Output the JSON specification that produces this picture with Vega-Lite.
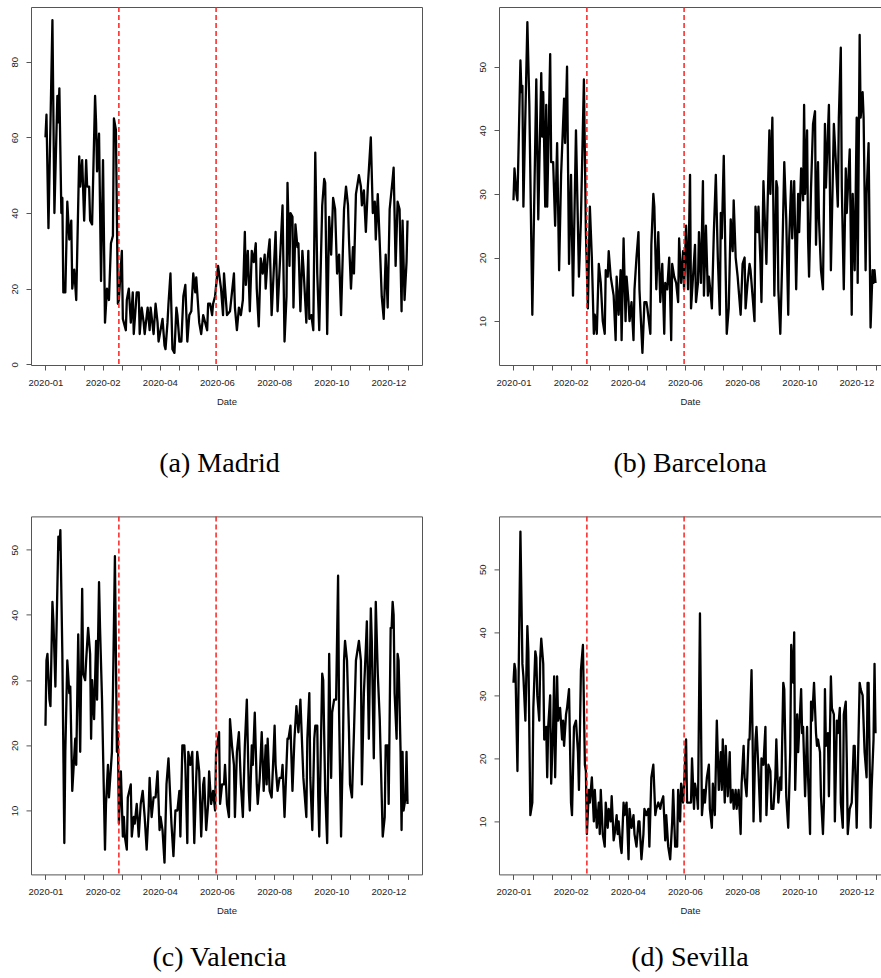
{
"$schema":"https://vega.github.io/schema/vega-lite/v6.json",
"background":"white",
"padding":{"left":8,"top":5,"right":0,"bottom":0},
"bounds":"flush",
"align":"each",
"columns":2,
"spacing":{"row":151.4,"column":77},
"datasets":{
"events":[{"date":"2020-03-15"},{"date":"2020-06-21"}],
"Madrid":[{"date":"2020-01-01","value":60},{"date":"2020-01-02","value":66},{"date":"2020-01-04","value":36},{"date":"2020-01-08","value":91},{"date":"2020-01-10","value":40},{"date":"2020-01-13","value":71},{"date":"2020-01-14","value":64},{"date":"2020-01-15","value":73},{"date":"2020-01-17","value":40},{"date":"2020-01-18","value":44},{"date":"2020-01-19","value":19},{"date":"2020-01-21","value":19},{"date":"2020-01-23","value":43},{"date":"2020-01-25","value":33},{"date":"2020-01-27","value":38},{"date":"2020-01-28","value":20},{"date":"2020-01-30","value":25},{"date":"2020-02-01","value":17},{"date":"2020-02-04","value":55},{"date":"2020-02-05","value":47},{"date":"2020-02-07","value":54},{"date":"2020-02-09","value":38},{"date":"2020-02-11","value":54},{"date":"2020-02-12","value":47},{"date":"2020-02-14","value":47},{"date":"2020-02-15","value":38},{"date":"2020-02-17","value":37},{"date":"2020-02-20","value":71},{"date":"2020-02-21","value":64},{"date":"2020-02-22","value":51},{"date":"2020-02-24","value":61},{"date":"2020-02-26","value":22},{"date":"2020-02-28","value":54},{"date":"2020-03-01","value":11},{"date":"2020-03-03","value":20},{"date":"2020-03-05","value":17},{"date":"2020-03-07","value":32},{"date":"2020-03-09","value":34},{"date":"2020-03-10","value":65},{"date":"2020-03-12","value":62},{"date":"2020-03-14","value":16},{"date":"2020-03-15","value":17},{"date":"2020-03-18","value":30},{"date":"2020-03-19","value":12},{"date":"2020-03-22","value":9},{"date":"2020-03-23","value":17},{"date":"2020-03-25","value":20},{"date":"2020-03-27","value":11},{"date":"2020-03-29","value":19},{"date":"2020-03-30","value":8},{"date":"2020-04-02","value":19},{"date":"2020-04-04","value":19},{"date":"2020-04-05","value":8},{"date":"2020-04-07","value":15},{"date":"2020-04-09","value":11},{"date":"2020-04-10","value":8},{"date":"2020-04-13","value":15},{"date":"2020-04-15","value":9},{"date":"2020-04-16","value":15},{"date":"2020-04-19","value":8},{"date":"2020-04-21","value":16},{"date":"2020-04-23","value":11},{"date":"2020-04-24","value":6},{"date":"2020-04-26","value":9},{"date":"2020-04-28","value":12},{"date":"2020-04-30","value":5},{"date":"2020-05-01","value":4},{"date":"2020-05-03","value":11},{"date":"2020-05-04","value":16},{"date":"2020-05-06","value":24},{"date":"2020-05-08","value":4},{"date":"2020-05-10","value":3},{"date":"2020-05-12","value":15},{"date":"2020-05-13","value":13},{"date":"2020-05-15","value":6},{"date":"2020-05-17","value":6},{"date":"2020-05-19","value":18},{"date":"2020-05-21","value":21},{"date":"2020-05-23","value":6},{"date":"2020-05-25","value":13},{"date":"2020-05-27","value":14},{"date":"2020-05-29","value":24},{"date":"2020-05-31","value":19},{"date":"2020-06-01","value":23},{"date":"2020-06-04","value":11},{"date":"2020-06-06","value":8},{"date":"2020-06-08","value":13},{"date":"2020-06-10","value":11},{"date":"2020-06-12","value":9},{"date":"2020-06-13","value":16},{"date":"2020-06-15","value":16},{"date":"2020-06-17","value":13},{"date":"2020-06-18","value":16},{"date":"2020-06-20","value":18},{"date":"2020-06-23","value":26},{"date":"2020-06-26","value":20},{"date":"2020-06-28","value":13},{"date":"2020-06-29","value":24},{"date":"2020-07-02","value":13},{"date":"2020-07-05","value":14},{"date":"2020-07-09","value":24},{"date":"2020-07-10","value":15},{"date":"2020-07-12","value":9},{"date":"2020-07-14","value":15},{"date":"2020-07-16","value":13},{"date":"2020-07-18","value":17},{"date":"2020-07-20","value":35},{"date":"2020-07-21","value":21},{"date":"2020-07-23","value":30},{"date":"2020-07-25","value":14},{"date":"2020-07-27","value":30},{"date":"2020-07-29","value":27},{"date":"2020-07-31","value":32},{"date":"2020-08-01","value":20},{"date":"2020-08-03","value":10},{"date":"2020-08-05","value":28},{"date":"2020-08-07","value":24},{"date":"2020-08-09","value":29},{"date":"2020-08-10","value":20},{"date":"2020-08-12","value":28},{"date":"2020-08-14","value":33},{"date":"2020-08-16","value":13},{"date":"2020-08-18","value":24},{"date":"2020-08-20","value":35},{"date":"2020-08-22","value":14},{"date":"2020-08-24","value":25},{"date":"2020-08-27","value":42},{"date":"2020-08-29","value":6},{"date":"2020-08-31","value":18},{"date":"2020-09-01","value":48},{"date":"2020-09-03","value":26},{"date":"2020-09-04","value":40},{"date":"2020-09-06","value":39},{"date":"2020-09-07","value":15},{"date":"2020-09-09","value":37},{"date":"2020-09-11","value":31},{"date":"2020-09-12","value":32},{"date":"2020-09-14","value":14},{"date":"2020-09-16","value":30},{"date":"2020-09-17","value":26},{"date":"2020-09-20","value":11},{"date":"2020-09-22","value":30},{"date":"2020-09-23","value":12},{"date":"2020-09-25","value":13},{"date":"2020-09-27","value":9},{"date":"2020-09-29","value":56},{"date":"2020-10-01","value":24},{"date":"2020-10-03","value":9},{"date":"2020-10-06","value":42},{"date":"2020-10-08","value":49},{"date":"2020-10-09","value":48},{"date":"2020-10-11","value":8},{"date":"2020-10-13","value":39},{"date":"2020-10-15","value":29},{"date":"2020-10-17","value":44},{"date":"2020-10-19","value":41},{"date":"2020-10-21","value":24},{"date":"2020-10-23","value":29},{"date":"2020-10-25","value":13},{"date":"2020-10-28","value":41},{"date":"2020-10-30","value":47},{"date":"2020-11-01","value":42},{"date":"2020-11-02","value":33},{"date":"2020-11-04","value":20},{"date":"2020-11-06","value":31},{"date":"2020-11-07","value":24},{"date":"2020-11-09","value":45},{"date":"2020-11-12","value":50},{"date":"2020-11-14","value":47},{"date":"2020-11-15","value":42},{"date":"2020-11-17","value":46},{"date":"2020-11-19","value":35},{"date":"2020-11-21","value":47},{"date":"2020-11-24","value":60},{"date":"2020-11-26","value":40},{"date":"2020-11-28","value":43},{"date":"2020-11-29","value":33},{"date":"2020-12-01","value":45},{"date":"2020-12-03","value":32},{"date":"2020-12-05","value":18},{"date":"2020-12-07","value":12},{"date":"2020-12-09","value":29},{"date":"2020-12-11","value":15},{"date":"2020-12-13","value":41},{"date":"2020-12-16","value":49},{"date":"2020-12-17","value":52},{"date":"2020-12-19","value":26},{"date":"2020-12-21","value":43},{"date":"2020-12-23","value":41},{"date":"2020-12-25","value":14},{"date":"2020-12-26","value":38},{"date":"2020-12-28","value":17},{"date":"2020-12-30","value":27},{"date":"2020-12-31","value":38}],
"Barcelona":[{"date":"2020-01-01","value":29},{"date":"2020-01-02","value":34},{"date":"2020-01-04","value":30},{"date":"2020-01-05","value":29},{"date":"2020-01-08","value":51},{"date":"2020-01-09","value":46},{"date":"2020-01-10","value":47},{"date":"2020-01-11","value":28},{"date":"2020-01-15","value":57},{"date":"2020-01-17","value":44},{"date":"2020-01-20","value":11},{"date":"2020-01-24","value":48},{"date":"2020-01-26","value":26},{"date":"2020-01-27","value":34},{"date":"2020-01-29","value":49},{"date":"2020-01-30","value":39},{"date":"2020-01-31","value":46},{"date":"2020-02-02","value":28},{"date":"2020-02-03","value":44},{"date":"2020-02-04","value":28},{"date":"2020-02-07","value":52},{"date":"2020-02-08","value":35},{"date":"2020-02-10","value":35},{"date":"2020-02-12","value":25},{"date":"2020-02-14","value":38},{"date":"2020-02-16","value":18},{"date":"2020-02-18","value":33},{"date":"2020-02-21","value":45},{"date":"2020-02-22","value":38},{"date":"2020-02-24","value":50},{"date":"2020-02-26","value":19},{"date":"2020-02-28","value":33},{"date":"2020-03-01","value":14},{"date":"2020-03-04","value":40},{"date":"2020-03-07","value":17},{"date":"2020-03-09","value":26},{"date":"2020-03-12","value":48},{"date":"2020-03-14","value":24},{"date":"2020-03-16","value":12},{"date":"2020-03-18","value":28},{"date":"2020-03-20","value":20},{"date":"2020-03-22","value":8},{"date":"2020-03-23","value":11},{"date":"2020-03-25","value":8},{"date":"2020-03-27","value":19},{"date":"2020-03-29","value":16},{"date":"2020-03-31","value":10},{"date":"2020-04-02","value":8},{"date":"2020-04-03","value":18},{"date":"2020-04-05","value":17},{"date":"2020-04-06","value":21},{"date":"2020-04-08","value":17},{"date":"2020-04-11","value":14},{"date":"2020-04-13","value":7},{"date":"2020-04-14","value":17},{"date":"2020-04-16","value":11},{"date":"2020-04-18","value":18},{"date":"2020-04-19","value":7},{"date":"2020-04-21","value":23},{"date":"2020-04-23","value":10},{"date":"2020-04-24","value":17},{"date":"2020-04-26","value":13},{"date":"2020-04-27","value":10},{"date":"2020-04-29","value":13},{"date":"2020-05-01","value":7},{"date":"2020-05-02","value":15},{"date":"2020-05-04","value":20},{"date":"2020-05-06","value":24},{"date":"2020-05-07","value":15},{"date":"2020-05-10","value":5},{"date":"2020-05-12","value":13},{"date":"2020-05-14","value":13},{"date":"2020-05-15","value":12},{"date":"2020-05-18","value":8},{"date":"2020-05-19","value":22},{"date":"2020-05-21","value":30},{"date":"2020-05-22","value":28},{"date":"2020-05-24","value":15},{"date":"2020-05-26","value":24},{"date":"2020-05-28","value":13},{"date":"2020-05-30","value":19},{"date":"2020-06-01","value":8},{"date":"2020-06-02","value":16},{"date":"2020-06-04","value":15},{"date":"2020-06-06","value":20},{"date":"2020-06-08","value":7},{"date":"2020-06-09","value":19},{"date":"2020-06-11","value":17},{"date":"2020-06-13","value":16},{"date":"2020-06-15","value":13},{"date":"2020-06-16","value":23},{"date":"2020-06-18","value":16},{"date":"2020-06-20","value":21},{"date":"2020-06-21","value":15},{"date":"2020-06-23","value":25},{"date":"2020-06-25","value":15},{"date":"2020-06-27","value":33},{"date":"2020-06-28","value":12},{"date":"2020-06-30","value":17},{"date":"2020-07-02","value":22},{"date":"2020-07-03","value":13},{"date":"2020-07-05","value":16},{"date":"2020-07-06","value":24},{"date":"2020-07-08","value":16},{"date":"2020-07-10","value":32},{"date":"2020-07-11","value":14},{"date":"2020-07-13","value":25},{"date":"2020-07-15","value":14},{"date":"2020-07-16","value":17},{"date":"2020-07-18","value":14},{"date":"2020-07-19","value":12},{"date":"2020-07-21","value":24},{"date":"2020-07-23","value":33},{"date":"2020-07-25","value":20},{"date":"2020-07-27","value":11},{"date":"2020-07-28","value":27},{"date":"2020-07-29","value":23},{"date":"2020-07-31","value":36},{"date":"2020-08-02","value":17},{"date":"2020-08-03","value":8},{"date":"2020-08-05","value":12},{"date":"2020-08-07","value":26},{"date":"2020-08-09","value":21},{"date":"2020-08-10","value":29},{"date":"2020-08-12","value":20},{"date":"2020-08-14","value":17},{"date":"2020-08-15","value":15},{"date":"2020-08-17","value":11},{"date":"2020-08-19","value":19},{"date":"2020-08-21","value":20},{"date":"2020-08-22","value":12},{"date":"2020-08-24","value":16},{"date":"2020-08-26","value":19},{"date":"2020-08-27","value":18},{"date":"2020-08-29","value":14},{"date":"2020-08-31","value":10},{"date":"2020-09-01","value":28},{"date":"2020-09-03","value":24},{"date":"2020-09-04","value":28},{"date":"2020-09-06","value":19},{"date":"2020-09-07","value":13},{"date":"2020-09-09","value":32},{"date":"2020-09-12","value":19},{"date":"2020-09-13","value":27},{"date":"2020-09-15","value":40},{"date":"2020-09-16","value":30},{"date":"2020-09-18","value":42},{"date":"2020-09-20","value":14},{"date":"2020-09-22","value":32},{"date":"2020-09-23","value":31},{"date":"2020-09-24","value":15},{"date":"2020-09-26","value":8},{"date":"2020-09-28","value":20},{"date":"2020-09-30","value":35},{"date":"2020-10-02","value":26},{"date":"2020-10-04","value":11},{"date":"2020-10-05","value":23},{"date":"2020-10-07","value":32},{"date":"2020-10-08","value":23},{"date":"2020-10-10","value":32},{"date":"2020-10-12","value":15},{"date":"2020-10-14","value":30},{"date":"2020-10-15","value":24},{"date":"2020-10-17","value":34},{"date":"2020-10-19","value":29},{"date":"2020-10-20","value":44},{"date":"2020-10-21","value":30},{"date":"2020-10-23","value":40},{"date":"2020-10-24","value":23},{"date":"2020-10-25","value":17},{"date":"2020-10-27","value":31},{"date":"2020-10-29","value":41},{"date":"2020-10-31","value":43},{"date":"2020-11-01","value":22},{"date":"2020-11-03","value":35},{"date":"2020-11-04","value":26},{"date":"2020-11-06","value":18},{"date":"2020-11-08","value":15},{"date":"2020-11-10","value":41},{"date":"2020-11-11","value":31},{"date":"2020-11-14","value":44},{"date":"2020-11-16","value":18},{"date":"2020-11-19","value":41},{"date":"2020-11-21","value":35},{"date":"2020-11-23","value":28},{"date":"2020-11-24","value":42},{"date":"2020-11-26","value":53},{"date":"2020-11-27","value":31},{"date":"2020-11-29","value":15},{"date":"2020-12-01","value":34},{"date":"2020-12-02","value":27},{"date":"2020-12-05","value":37},{"date":"2020-12-07","value":11},{"date":"2020-12-08","value":30},{"date":"2020-12-10","value":18},{"date":"2020-12-12","value":42},{"date":"2020-12-13","value":16},{"date":"2020-12-15","value":55},{"date":"2020-12-16","value":42},{"date":"2020-12-18","value":46},{"date":"2020-12-19","value":42},{"date":"2020-12-21","value":18},{"date":"2020-12-22","value":30},{"date":"2020-12-24","value":38},{"date":"2020-12-26","value":9},{"date":"2020-12-28","value":18},{"date":"2020-12-29","value":16},{"date":"2020-12-30","value":18},{"date":"2020-12-31","value":16}],
"Valencia":[{"date":"2020-01-01","value":23},{"date":"2020-01-02","value":33},{"date":"2020-01-03","value":34},{"date":"2020-01-05","value":27},{"date":"2020-01-06","value":26},{"date":"2020-01-08","value":42},{"date":"2020-01-09","value":39},{"date":"2020-01-11","value":29},{"date":"2020-01-14","value":52},{"date":"2020-01-15","value":50},{"date":"2020-01-16","value":53},{"date":"2020-01-18","value":34},{"date":"2020-01-20","value":5},{"date":"2020-01-21","value":19},{"date":"2020-01-23","value":33},{"date":"2020-01-25","value":28},{"date":"2020-01-26","value":29},{"date":"2020-01-28","value":13},{"date":"2020-01-31","value":21},{"date":"2020-02-01","value":17},{"date":"2020-02-03","value":37},{"date":"2020-02-05","value":19},{"date":"2020-02-07","value":44},{"date":"2020-02-08","value":31},{"date":"2020-02-10","value":30},{"date":"2020-02-11","value":33},{"date":"2020-02-13","value":38},{"date":"2020-02-15","value":34},{"date":"2020-02-16","value":21},{"date":"2020-02-17","value":30},{"date":"2020-02-19","value":24},{"date":"2020-02-21","value":36},{"date":"2020-02-22","value":27},{"date":"2020-02-24","value":45},{"date":"2020-02-25","value":38},{"date":"2020-02-27","value":27},{"date":"2020-03-01","value":4},{"date":"2020-03-02","value":11},{"date":"2020-03-04","value":17},{"date":"2020-03-05","value":12},{"date":"2020-03-08","value":19},{"date":"2020-03-09","value":28},{"date":"2020-03-11","value":49},{"date":"2020-03-13","value":19},{"date":"2020-03-14","value":22},{"date":"2020-03-15","value":8},{"date":"2020-03-17","value":16},{"date":"2020-03-19","value":6},{"date":"2020-03-20","value":9},{"date":"2020-03-21","value":6},{"date":"2020-03-23","value":4},{"date":"2020-03-24","value":12},{"date":"2020-03-27","value":14},{"date":"2020-03-28","value":6},{"date":"2020-03-30","value":9},{"date":"2020-03-31","value":8},{"date":"2020-04-02","value":11},{"date":"2020-04-04","value":6},{"date":"2020-04-06","value":11},{"date":"2020-04-08","value":13},{"date":"2020-04-10","value":9},{"date":"2020-04-12","value":4},{"date":"2020-04-14","value":10},{"date":"2020-04-15","value":15},{"date":"2020-04-17","value":9},{"date":"2020-04-19","value":12},{"date":"2020-04-21","value":12},{"date":"2020-04-23","value":16},{"date":"2020-04-25","value":7},{"date":"2020-04-26","value":9},{"date":"2020-04-28","value":7},{"date":"2020-04-30","value":2},{"date":"2020-05-02","value":14},{"date":"2020-05-04","value":18},{"date":"2020-05-07","value":8},{"date":"2020-05-09","value":3},{"date":"2020-05-11","value":10},{"date":"2020-05-13","value":10},{"date":"2020-05-15","value":13},{"date":"2020-05-16","value":6},{"date":"2020-05-18","value":20},{"date":"2020-05-20","value":20},{"date":"2020-05-21","value":17},{"date":"2020-05-23","value":5},{"date":"2020-05-24","value":19},{"date":"2020-05-26","value":17},{"date":"2020-05-28","value":19},{"date":"2020-05-30","value":5},{"date":"2020-06-01","value":15},{"date":"2020-06-02","value":19},{"date":"2020-06-04","value":16},{"date":"2020-06-06","value":6},{"date":"2020-06-08","value":14},{"date":"2020-06-09","value":15},{"date":"2020-06-11","value":7},{"date":"2020-06-13","value":11},{"date":"2020-06-14","value":16},{"date":"2020-06-16","value":11},{"date":"2020-06-18","value":13},{"date":"2020-06-20","value":10},{"date":"2020-06-21","value":19},{"date":"2020-06-24","value":22},{"date":"2020-06-25","value":11},{"date":"2020-06-27","value":14},{"date":"2020-06-29","value":14},{"date":"2020-06-30","value":17},{"date":"2020-07-02","value":11},{"date":"2020-07-04","value":9},{"date":"2020-07-05","value":24},{"date":"2020-07-07","value":20},{"date":"2020-07-09","value":17},{"date":"2020-07-10","value":9},{"date":"2020-07-12","value":19},{"date":"2020-07-14","value":22},{"date":"2020-07-16","value":14},{"date":"2020-07-18","value":9},{"date":"2020-07-20","value":20},{"date":"2020-07-22","value":27},{"date":"2020-07-24","value":13},{"date":"2020-07-25","value":10},{"date":"2020-07-27","value":20},{"date":"2020-07-28","value":17},{"date":"2020-07-30","value":25},{"date":"2020-08-01","value":14},{"date":"2020-08-02","value":11},{"date":"2020-08-04","value":15},{"date":"2020-08-06","value":22},{"date":"2020-08-08","value":13},{"date":"2020-08-10","value":20},{"date":"2020-08-11","value":14},{"date":"2020-08-12","value":21},{"date":"2020-08-14","value":13},{"date":"2020-08-16","value":12},{"date":"2020-08-18","value":19},{"date":"2020-08-19","value":23},{"date":"2020-08-20","value":17},{"date":"2020-08-22","value":13},{"date":"2020-08-24","value":15},{"date":"2020-08-26","value":15},{"date":"2020-08-27","value":17},{"date":"2020-08-29","value":9},{"date":"2020-09-01","value":21},{"date":"2020-09-02","value":21},{"date":"2020-09-04","value":23},{"date":"2020-09-06","value":13},{"date":"2020-09-08","value":21},{"date":"2020-09-10","value":26},{"date":"2020-09-12","value":22},{"date":"2020-09-14","value":27},{"date":"2020-09-15","value":23},{"date":"2020-09-17","value":15},{"date":"2020-09-20","value":9},{"date":"2020-09-21","value":21},{"date":"2020-09-23","value":28},{"date":"2020-09-24","value":15},{"date":"2020-09-26","value":7},{"date":"2020-09-28","value":21},{"date":"2020-09-29","value":23},{"date":"2020-10-01","value":23},{"date":"2020-10-02","value":12},{"date":"2020-10-03","value":6},{"date":"2020-10-06","value":31},{"date":"2020-10-07","value":30},{"date":"2020-10-09","value":13},{"date":"2020-10-11","value":5},{"date":"2020-10-12","value":17},{"date":"2020-10-13","value":34},{"date":"2020-10-15","value":15},{"date":"2020-10-16","value":25},{"date":"2020-10-18","value":27},{"date":"2020-10-20","value":27},{"date":"2020-10-22","value":46},{"date":"2020-10-23","value":25},{"date":"2020-10-25","value":6},{"date":"2020-10-27","value":21},{"date":"2020-10-28","value":33},{"date":"2020-10-29","value":36},{"date":"2020-10-31","value":33},{"date":"2020-11-02","value":22},{"date":"2020-11-03","value":14},{"date":"2020-11-05","value":12},{"date":"2020-11-07","value":22},{"date":"2020-11-09","value":33},{"date":"2020-11-10","value":34},{"date":"2020-11-12","value":36},{"date":"2020-11-14","value":33},{"date":"2020-11-15","value":14},{"date":"2020-11-17","value":28},{"date":"2020-11-19","value":35},{"date":"2020-11-20","value":39},{"date":"2020-11-22","value":21},{"date":"2020-11-24","value":41},{"date":"2020-11-25","value":36},{"date":"2020-11-27","value":18},{"date":"2020-11-29","value":42},{"date":"2020-12-01","value":31},{"date":"2020-12-03","value":24},{"date":"2020-12-05","value":12},{"date":"2020-12-06","value":6},{"date":"2020-12-08","value":9},{"date":"2020-12-09","value":20},{"date":"2020-12-11","value":20},{"date":"2020-12-12","value":11},{"date":"2020-12-14","value":38},{"date":"2020-12-15","value":38},{"date":"2020-12-16","value":42},{"date":"2020-12-17","value":40},{"date":"2020-12-18","value":28},{"date":"2020-12-20","value":21},{"date":"2020-12-21","value":34},{"date":"2020-12-22","value":33},{"date":"2020-12-24","value":19},{"date":"2020-12-25","value":7},{"date":"2020-12-26","value":19},{"date":"2020-12-27","value":10},{"date":"2020-12-29","value":12},{"date":"2020-12-30","value":19},{"date":"2020-12-31","value":11}],
"Sevilla":[{"date":"2020-01-01","value":32},{"date":"2020-01-02","value":35},{"date":"2020-01-03","value":34},{"date":"2020-01-05","value":18},{"date":"2020-01-08","value":56},{"date":"2020-01-10","value":35},{"date":"2020-01-11","value":33},{"date":"2020-01-13","value":26},{"date":"2020-01-15","value":41},{"date":"2020-01-16","value":37},{"date":"2020-01-18","value":11},{"date":"2020-01-20","value":13},{"date":"2020-01-21","value":28},{"date":"2020-01-23","value":37},{"date":"2020-01-24","value":36},{"date":"2020-01-25","value":30},{"date":"2020-01-27","value":26},{"date":"2020-01-28","value":36},{"date":"2020-01-29","value":39},{"date":"2020-01-31","value":35},{"date":"2020-02-01","value":23},{"date":"2020-02-03","value":25},{"date":"2020-02-04","value":17},{"date":"2020-02-05","value":25},{"date":"2020-02-07","value":30},{"date":"2020-02-08","value":16},{"date":"2020-02-10","value":25},{"date":"2020-02-11","value":33},{"date":"2020-02-12","value":17},{"date":"2020-02-14","value":33},{"date":"2020-02-15","value":26},{"date":"2020-02-17","value":28},{"date":"2020-02-19","value":23},{"date":"2020-02-20","value":26},{"date":"2020-02-21","value":22},{"date":"2020-02-23","value":27},{"date":"2020-02-24","value":28},{"date":"2020-02-26","value":31},{"date":"2020-02-28","value":13},{"date":"2020-02-29","value":11},{"date":"2020-03-02","value":25},{"date":"2020-03-04","value":26},{"date":"2020-03-06","value":21},{"date":"2020-03-07","value":15},{"date":"2020-03-09","value":34},{"date":"2020-03-11","value":38},{"date":"2020-03-13","value":19},{"date":"2020-03-14","value":18},{"date":"2020-03-15","value":8},{"date":"2020-03-17","value":15},{"date":"2020-03-18","value":13},{"date":"2020-03-20","value":17},{"date":"2020-03-22","value":10},{"date":"2020-03-23","value":15},{"date":"2020-03-25","value":9},{"date":"2020-03-27","value":13},{"date":"2020-03-28","value":8},{"date":"2020-03-29","value":15},{"date":"2020-03-31","value":8},{"date":"2020-04-02","value":6},{"date":"2020-04-03","value":13},{"date":"2020-04-05","value":9},{"date":"2020-04-06","value":12},{"date":"2020-04-08","value":10},{"date":"2020-04-09","value":14},{"date":"2020-04-11","value":7},{"date":"2020-04-12","value":8},{"date":"2020-04-14","value":11},{"date":"2020-04-15","value":8},{"date":"2020-04-16","value":10},{"date":"2020-04-18","value":6},{"date":"2020-04-19","value":5},{"date":"2020-04-21","value":13},{"date":"2020-04-22","value":11},{"date":"2020-04-24","value":13},{"date":"2020-04-26","value":4},{"date":"2020-04-27","value":12},{"date":"2020-04-29","value":9},{"date":"2020-05-01","value":11},{"date":"2020-05-02","value":8},{"date":"2020-05-04","value":6},{"date":"2020-05-06","value":10},{"date":"2020-05-07","value":10},{"date":"2020-05-09","value":4},{"date":"2020-05-11","value":8},{"date":"2020-05-12","value":12},{"date":"2020-05-14","value":11},{"date":"2020-05-16","value":12},{"date":"2020-05-17","value":6},{"date":"2020-05-19","value":17},{"date":"2020-05-21","value":19},{"date":"2020-05-23","value":11},{"date":"2020-05-24","value":12},{"date":"2020-05-26","value":13},{"date":"2020-05-28","value":12},{"date":"2020-05-29","value":13},{"date":"2020-05-31","value":14},{"date":"2020-06-02","value":7},{"date":"2020-06-03","value":11},{"date":"2020-06-05","value":6},{"date":"2020-06-07","value":4},{"date":"2020-06-09","value":10},{"date":"2020-06-10","value":15},{"date":"2020-06-12","value":6},{"date":"2020-06-14","value":6},{"date":"2020-06-15","value":15},{"date":"2020-06-17","value":10},{"date":"2020-06-18","value":16},{"date":"2020-06-20","value":13},{"date":"2020-06-21","value":16},{"date":"2020-06-23","value":23},{"date":"2020-06-24","value":13},{"date":"2020-06-26","value":13},{"date":"2020-06-28","value":13},{"date":"2020-06-29","value":20},{"date":"2020-07-01","value":12},{"date":"2020-07-02","value":16},{"date":"2020-07-04","value":14},{"date":"2020-07-05","value":12},{"date":"2020-07-07","value":43},{"date":"2020-07-09","value":11},{"date":"2020-07-11","value":15},{"date":"2020-07-12","value":13},{"date":"2020-07-14","value":17},{"date":"2020-07-16","value":19},{"date":"2020-07-17","value":12},{"date":"2020-07-19","value":9},{"date":"2020-07-20","value":16},{"date":"2020-07-22","value":11},{"date":"2020-07-24","value":26},{"date":"2020-07-26","value":15},{"date":"2020-07-28","value":21},{"date":"2020-07-29","value":15},{"date":"2020-07-30","value":23},{"date":"2020-08-01","value":13},{"date":"2020-08-02","value":22},{"date":"2020-08-04","value":14},{"date":"2020-08-06","value":21},{"date":"2020-08-07","value":13},{"date":"2020-08-09","value":15},{"date":"2020-08-10","value":12},{"date":"2020-08-12","value":15},{"date":"2020-08-13","value":12},{"date":"2020-08-15","value":15},{"date":"2020-08-17","value":8},{"date":"2020-08-18","value":16},{"date":"2020-08-20","value":22},{"date":"2020-08-21","value":17},{"date":"2020-08-23","value":14},{"date":"2020-08-25","value":23},{"date":"2020-08-26","value":23},{"date":"2020-08-28","value":34},{"date":"2020-08-29","value":24},{"date":"2020-08-30","value":10},{"date":"2020-09-01","value":23},{"date":"2020-09-02","value":25},{"date":"2020-09-04","value":18},{"date":"2020-09-06","value":10},{"date":"2020-09-07","value":20},{"date":"2020-09-09","value":19},{"date":"2020-09-11","value":25},{"date":"2020-09-12","value":11},{"date":"2020-09-14","value":19},{"date":"2020-09-16","value":18},{"date":"2020-09-17","value":12},{"date":"2020-09-19","value":12},{"date":"2020-09-21","value":17},{"date":"2020-09-22","value":23},{"date":"2020-09-24","value":13},{"date":"2020-09-26","value":17},{"date":"2020-09-27","value":15},{"date":"2020-09-29","value":32},{"date":"2020-09-30","value":31},{"date":"2020-10-02","value":14},{"date":"2020-10-04","value":9},{"date":"2020-10-06","value":21},{"date":"2020-10-07","value":38},{"date":"2020-10-09","value":32},{"date":"2020-10-10","value":40},{"date":"2020-10-11","value":15},{"date":"2020-10-13","value":27},{"date":"2020-10-14","value":21},{"date":"2020-10-17","value":31},{"date":"2020-10-18","value":24},{"date":"2020-10-19","value":25},{"date":"2020-10-21","value":14},{"date":"2020-10-23","value":25},{"date":"2020-10-24","value":17},{"date":"2020-10-26","value":8},{"date":"2020-10-27","value":29},{"date":"2020-10-28","value":26},{"date":"2020-10-30","value":32},{"date":"2020-11-01","value":24},{"date":"2020-11-02","value":22},{"date":"2020-11-03","value":23},{"date":"2020-11-05","value":21},{"date":"2020-11-06","value":14},{"date":"2020-11-08","value":8},{"date":"2020-11-09","value":13},{"date":"2020-11-10","value":31},{"date":"2020-11-11","value":22},{"date":"2020-11-13","value":24},{"date":"2020-11-14","value":14},{"date":"2020-11-16","value":33},{"date":"2020-11-17","value":28},{"date":"2020-11-19","value":27},{"date":"2020-11-20","value":10},{"date":"2020-11-22","value":26},{"date":"2020-11-23","value":24},{"date":"2020-11-25","value":28},{"date":"2020-11-26","value":13},{"date":"2020-11-28","value":9},{"date":"2020-11-29","value":27},{"date":"2020-12-01","value":29},{"date":"2020-12-02","value":20},{"date":"2020-12-03","value":8},{"date":"2020-12-05","value":12},{"date":"2020-12-07","value":13},{"date":"2020-12-09","value":22},{"date":"2020-12-10","value":22},{"date":"2020-12-12","value":9},{"date":"2020-12-13","value":17},{"date":"2020-12-15","value":32},{"date":"2020-12-16","value":31},{"date":"2020-12-18","value":30},{"date":"2020-12-20","value":21},{"date":"2020-12-22","value":17},{"date":"2020-12-23","value":32},{"date":"2020-12-24","value":32},{"date":"2020-12-26","value":9},{"date":"2020-12-27","value":15},{"date":"2020-12-29","value":23},{"date":"2020-12-30","value":35},{"date":"2020-12-31","value":24}]
},
"concat":[
 {"width":391,"height":358,
  "title":{"text":"(a) Madrid","orient":"bottom","offset":44,"dx":-7,"font":"Liberation Serif","fontSize":28,"fontWeight":"normal","color":"#000"},
  "resolve":{"axis":{"x":"independent"}},
  "layer":[
   {"data":{"name":"Madrid"},"mark":{"type":"line","color":"#000","strokeWidth":2.3,"strokeJoin":"round"},
    "encoding":{
     "x":{"field":"date","type":"temporal","scale":{"type":"utc","domain":[1576575360000,1610634240000],"nice":false},
      "axis":{"title":"Date","labelOverlap":false,"values":[1577836800000,1579496589474,1581156378947,1582816168421,1584475957895,1586135747368,1587795536842,1589455326316,1591115115789,1592774905263,1594434694737,1596094484211,1597754273684,1599414063158,1601073852632,1602733642105,1604393431579,1606053221053,1607713010526,1609372800000],
       "labelExpr":"round((datum.value - 1577836800000) / 1659789473.684) % 3 == 0 ? utcFormat(datum.value, '%Y-%m') : ''"}},
     "y":{"field":"value","type":"quantitative","scale":{"domain":[-0.2,94.5],"nice":false,"zero":false},"axis":{"values":[0,20,40,60,80],"title":null}}}},
   {"data":{"name":"events"},"mark":{"type":"rule","color":"#ff2020","strokeWidth":1.5,"strokeDash":[5,3]},
    "encoding":{"x":{"field":"date","type":"temporal","axis":{"orient":"top","domain":false,"labels":false,"ticks":false,"title":null}}}}
  ]},
 {"width":382,"height":358,
  "view":{"stroke":null},
  "title":{"text":"(b) Barcelona","orient":"bottom","offset":44,"font":"Liberation Serif","fontSize":28,"fontWeight":"normal","color":"#000"},
  "resolve":{"axis":{"x":"independent"}},
  "layer":[
   {"data":{"name":"Barcelona"},"mark":{"type":"line","color":"#000","strokeWidth":2.3,"strokeJoin":"round"},
    "encoding":{
     "x":{"field":"date","type":"temporal","scale":{"type":"utc","domain":[1576575360000,1609849728000],"nice":false},
      "axis":{"title":"Date","domain":true,"labelOverlap":false,"values":[1577836800000,1579496589474,1581156378947,1582816168421,1584475957895,1586135747368,1587795536842,1589455326316,1591115115789,1592774905263,1594434694737,1596094484211,1597754273684,1599414063158,1601073852632,1602733642105,1604393431579,1606053221053,1607713010526,1609372800000],
       "labelExpr":"round((datum.value - 1577836800000) / 1659789473.684) % 3 == 0 ? utcFormat(datum.value, '%Y-%m') : ''"}},
     "y":{"field":"value","type":"quantitative","scale":{"domain":[3.1,59.4],"nice":false,"zero":false},"axis":{"values":[10,20,30,40,50],"title":null,"domain":true}}}},
   {"data":{"name":"events"},"mark":{"type":"rule","color":"#ff2020","strokeWidth":1.5,"strokeDash":[5,3]},
    "encoding":{"x":{"field":"date","type":"temporal","axis":{"orient":"top","domain":true,"labels":false,"ticks":false,"title":null}}}}
  ]},
 {"width":391,"height":358,
  "title":{"text":"(c) Valencia","orient":"bottom","offset":29,"dx":-7,"font":"Liberation Serif","fontSize":28,"fontWeight":"normal","color":"#000"},
  "resolve":{"axis":{"x":"independent"}},
  "layer":[
   {"data":{"name":"Valencia"},"mark":{"type":"line","color":"#000","strokeWidth":2.3,"strokeJoin":"round"},
    "encoding":{
     "x":{"field":"date","type":"temporal","scale":{"type":"utc","domain":[1576575360000,1610634240000],"nice":false},
      "axis":{"title":"Date","labelOverlap":false,"values":[1577836800000,1579496589474,1581156378947,1582816168421,1584475957895,1586135747368,1587795536842,1589455326316,1591115115789,1592774905263,1594434694737,1596094484211,1597754273684,1599414063158,1601073852632,1602733642105,1604393431579,1606053221053,1607713010526,1609372800000],
       "labelExpr":"round((datum.value - 1577836800000) / 1659789473.684) % 3 == 0 ? utcFormat(datum.value, '%Y-%m') : ''"}},
     "y":{"field":"value","type":"quantitative","scale":{"domain":[0.2,55.1],"nice":false,"zero":false},"axis":{"values":[10,20,30,40,50],"title":null}}}},
   {"data":{"name":"events"},"mark":{"type":"rule","color":"#ff2020","strokeWidth":1.5,"strokeDash":[5,3]},
    "encoding":{"x":{"field":"date","type":"temporal","axis":{"orient":"top","domain":false,"labels":false,"ticks":false,"title":null}}}}
  ]},
 {"width":382,"height":358,
  "view":{"stroke":null},
  "title":{"text":"(d) Sevilla","orient":"bottom","offset":29,"font":"Liberation Serif","fontSize":28,"fontWeight":"normal","color":"#000"},
  "resolve":{"axis":{"x":"independent"}},
  "layer":[
   {"data":{"name":"Sevilla"},"mark":{"type":"line","color":"#000","strokeWidth":2.3,"strokeJoin":"round"},
    "encoding":{
     "x":{"field":"date","type":"temporal","scale":{"type":"utc","domain":[1576575360000,1609849728000],"nice":false},
      "axis":{"title":"Date","domain":true,"labelOverlap":false,"values":[1577836800000,1579496589474,1581156378947,1582816168421,1584475957895,1586135747368,1587795536842,1589455326316,1591115115789,1592774905263,1594434694737,1596094484211,1597754273684,1599414063158,1601073852632,1602733642105,1604393431579,1606053221053,1607713010526,1609372800000],
       "labelExpr":"round((datum.value - 1577836800000) / 1659789473.684) % 3 == 0 ? utcFormat(datum.value, '%Y-%m') : ''"}},
     "y":{"field":"value","type":"quantitative","scale":{"domain":[1.6,58.4],"nice":false,"zero":false},"axis":{"values":[10,20,30,40,50],"title":null,"domain":true}}}},
   {"data":{"name":"events"},"mark":{"type":"rule","color":"#ff2020","strokeWidth":1.5,"strokeDash":[5,3]},
    "encoding":{"x":{"field":"date","type":"temporal","axis":{"orient":"top","domain":true,"labels":false,"ticks":false,"title":null}}}}
  ]}
],
"config":{
 "view":{"stroke":"#555","strokeWidth":1},
 "axis":{"grid":false,"domain":false,"labelFont":"Liberation Sans","labelFontSize":9.5,"labelColor":"#222","titleFont":"Liberation Sans","titleFontSize":9.5,"titleFontWeight":"normal","titleColor":"#222","tickColor":"#555","tickSize":5,"domainColor":"#555","labelOverlap":false},
 "axisX":{"labelAngle":0,"labelPadding":7,"titlePadding":10,"labelFlush":false},
 "axisY":{"labelAngle":270,"labelAlign":"center","labelBaseline":"bottom","labelPadding":7,"labelFlush":false}
}
}
